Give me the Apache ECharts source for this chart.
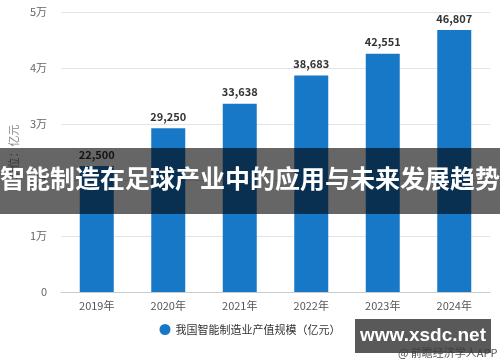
<!DOCTYPE html>
<html><head><meta charset="utf-8">
<script src="https://cdn.jsdelivr.net/npm/echarts@6/dist/echarts.min.js"></script>
<style>html,body{margin:0;padding:0;background:#fff}#c{width:500px;height:362px}</style>
</head><body><div id="c"></div>
<script>
const categories = ['2019年','2020年','2021年','2022年','2023年','2024年'];
const values = [22500, 29250, 33638, 38683, 42551, 46807];
const yTicks = [0, 10000, 20000, 30000, 40000, 50000];
const yTickLabels = ['0','1万','2万','3万','4万','5万'];
const seriesName = '我国智能制造业产值规模（亿元）';
const yName = '单位：亿元';
const bannerTitle = '智能制造在足球产业中的应用与未来发展趋势';
const siteMark = 'www.xsdc.net';
const sourceMark = '@ 前瞻经济学人APP';

const chart = echarts.init(document.getElementById('c'), null, {renderer:'canvas'});
const font = '"Noto Sans CJK SC", "Noto Sans", sans-serif';
chart.setOption({
  animation:false,
  textStyle:{fontFamily:font},
  grid:{left:57, right:10, top:12, bottom:70},
  legend:{bottom:22, left:'center', itemWidth:11, itemHeight:11, icon:'circle',
    textStyle:{fontSize:11, color:'#333', fontFamily:font}, data:[seriesName]},
  xAxis:{type:'category', data:categories,
    axisLine:{lineStyle:{color:'#ccc'}},
    axisTick:{alignWithLabel:true, lineStyle:{color:'#ccc'}},
    axisLabel:{color:'#555', fontSize:11, margin:8}},
  yAxis:{type:'value', min:0, max:50000, interval:10000,
    name:yName, nameLocation:'middle', nameGap:40, nameRotate:90,
    nameTextStyle:{color:'#888', fontSize:11},
    axisLine:{show:false}, axisTick:{show:false},
    axisLabel:{color:'#666', fontSize:11, margin:14,
      formatter:v=>yTickLabels[yTicks.indexOf(v)]},
    splitLine:{lineStyle:{color:'#e4e4e4'}}},
  series:[{type:'bar', name:seriesName, data:values, barWidth:34,
    itemStyle:{color:'#1878c8'},
    label:{show:true, position:'top', distance:6, color:'#333', fontWeight:'bold', fontSize:11,
      formatter:p=>p.value.toLocaleString('en-US')}}],
  graphic:[
    {type:'rect', left:0, top:148, shape:{width:500, height:66}, style:{fill:'rgba(0,0,0,0.6)'}, z:100},
    {type:'text', left:'center', top:166, style:{text:bannerTitle, fill:'#fff', font:'bold 25px '+font}, z:101},
    {type:'rect', left:355, top:319, shape:{width:136, height:34}, style:{fill:'rgba(60,60,60,0.85)'}, z:100},
    {type:'text', x:423, y:336, style:{text:siteMark, fill:'#fff', align:'center', verticalAlign:'middle', font:'bold 19px "Liberation Sans", Arial, sans-serif'}, z:101},
    {type:'text', left:398, top:347, style:{text:sourceMark, fill:'#555', font:'11px '+font}, z:99}
  ]
});
</script></body></html>
